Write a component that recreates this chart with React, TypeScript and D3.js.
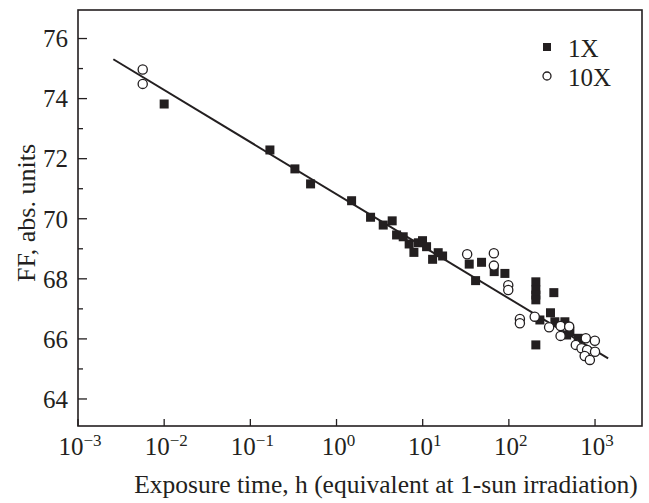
import React from 'react';
import * as d3 from 'd3';

// exposure time (log10 h) and FF values
const sq1xLogT = [-2.0, -0.773, -0.483, -0.301, 0.175, 0.395, 0.542, 0.646, 0.697, 0.774, 0.843, 0.898, 0.95, 0.998, 1.045, 1.115, 1.18, 1.231, 1.54, 1.614, 1.683, 1.83, 1.954, 2.313, 2.313, 2.313, 2.313, 2.313, 2.36, 2.483, 2.522, 2.534, 2.65, 2.67, 2.708, 2.805];
const sq1xFF = [73.82, 72.29, 71.66, 71.16, 70.6, 70.05, 69.79, 69.93, 69.46, 69.4, 69.16, 68.88, 69.2, 69.27, 69.07, 68.65, 68.87, 68.76, 68.49, 67.94, 68.55, 68.24, 68.18, 67.9, 67.63, 67.46, 67.3, 65.8, 66.63, 66.87, 67.54, 66.57, 66.57, 66.13, 66.24, 66.02];

const circ10xLogT = [-2.249, -2.249, 1.516, 1.826, 1.826, 1.993, 1.993, 2.128, 2.128, 2.3, 2.467, 2.6, 2.7, 2.6, 2.777, 2.843, 2.893, 2.998, 2.908, 3.0, 2.88, 2.94];
const circ10xFF = [74.97, 74.49, 68.82, 68.85, 68.44, 67.79, 67.63, 66.66, 66.52, 66.74, 66.39, 66.43, 66.41, 66.1, 65.8, 65.69, 66.02, 65.94, 65.63, 65.57, 65.43, 65.3];

const fitLogT = [-2.59, 3.152];
const fitFF = [75.31, 65.35];

const xTickExp = [-3, -2, -1, 0, 1, 2, 3];
const yTicks = [64, 66, 68, 70, 72, 74, 76];
const yMinorTicks = [65, 67, 69, 71, 73, 75];

const W = 649;
const H = 503;
const margin = { top: 10, right: 7, bottom: 77, left: 78 };
const font = '"Liberation Serif", "Times New Roman", serif';

export default function App() {
  const x = d3.scaleLog()
    .domain([1e-3, Math.pow(10, 3.545)])
    .range([margin.left, W - margin.right]);
  const y = d3.scaleLinear()
    .domain([63.1, 76.95])
    .range([H - margin.bottom, margin.top]);

  const line = d3.line<number>()
    .x((d, i) => x(Math.pow(10, fitLogT[i])))
    .y(d => y(d));

  const x0 = margin.left;
  const x1 = W - margin.right;
  const y0 = H - margin.bottom;
  const y1 = margin.top;
  const s = 9;

  return (
    <svg width={W} height={H} style={{ position: 'absolute', left: 0, top: 0 }} fontFamily={font}>
      <rect x={0} y={0} width={W} height={H} fill="#fff" />
      {/* ticks */}
      {yTicks.map(t => (
        <g key={'y' + t}>
          <line x1={x0} x2={x0 + 9} y1={y(t)} y2={y(t)} stroke="#231f20" strokeWidth={1.3} />
          <text x={68} y={y(t)} dy="0.35em" textAnchor="end" fontSize={25} fill="#231f20">{t}</text>
        </g>
      ))}
      {yMinorTicks.map(t => (
        <line key={'ym' + t} x1={x0} x2={x0 + 5} y1={y(t)} y2={y(t)} stroke="#231f20" strokeWidth={1.3} />
      ))}
      {xTickExp.map(e => (
        <g key={'x' + e}>
          <line x1={x(Math.pow(10, e))} x2={x(Math.pow(10, e))} y1={y0} y2={y0 - 7} stroke="#231f20" strokeWidth={1.3} />
          <text x={x(Math.pow(10, e)) + 2} y={455} textAnchor="middle" fontSize={25} fill="#231f20">
            10<tspan dy={-9} fontSize={17}>{e < 0 ? '\u2212' + Math.abs(e) : e}</tspan>
          </text>
        </g>
      ))}
      {/* fit line */}
      <path d={line(fitFF) || ''} fill="none" stroke="#231f20" strokeWidth={2} />
      {/* 1X squares */}
      {sq1xLogT.map((lt, i) => (
        <rect key={'s' + i} x={x(Math.pow(10, lt)) - s / 2} y={y(sq1xFF[i]) - s / 2} width={s} height={s} fill="#231f20" />
      ))}
      {/* 10X circles */}
      {circ10xLogT.map((lt, i) => (
        <circle key={'c' + i} cx={x(Math.pow(10, lt))} cy={y(circ10xFF[i])} r={4.6} fill="#fff" stroke="#231f20" strokeWidth={1.3} />
      ))}
      {/* frame */}
      <rect x={x0} y={y1} width={x1 - x0} height={y0 - y1} fill="none" stroke="#231f20" strokeWidth={1.6} />
      {/* legend */}
      <rect x={543} y={43} width={8} height={8} fill="#231f20" />
      <text x={568} y={57} fontSize={25} fill="#231f20">1X</text>
      <circle cx={547} cy={76} r={4} fill="#fff" stroke="#231f20" strokeWidth={1.3} />
      <text x={568} y={86} fontSize={25} fill="#231f20">10X</text>
      {/* axis titles */}
      <text x={386} y={493} textAnchor="middle" fontSize={25.5} fill="#231f20">Exposure time, h (equivalent at 1-sun irradiation)</text>
      <text transform={`translate(35,${213}) rotate(-90)`} textAnchor="middle" fontSize={26} fill="#231f20">FF, abs. units</text>
    </svg>
  );
}
